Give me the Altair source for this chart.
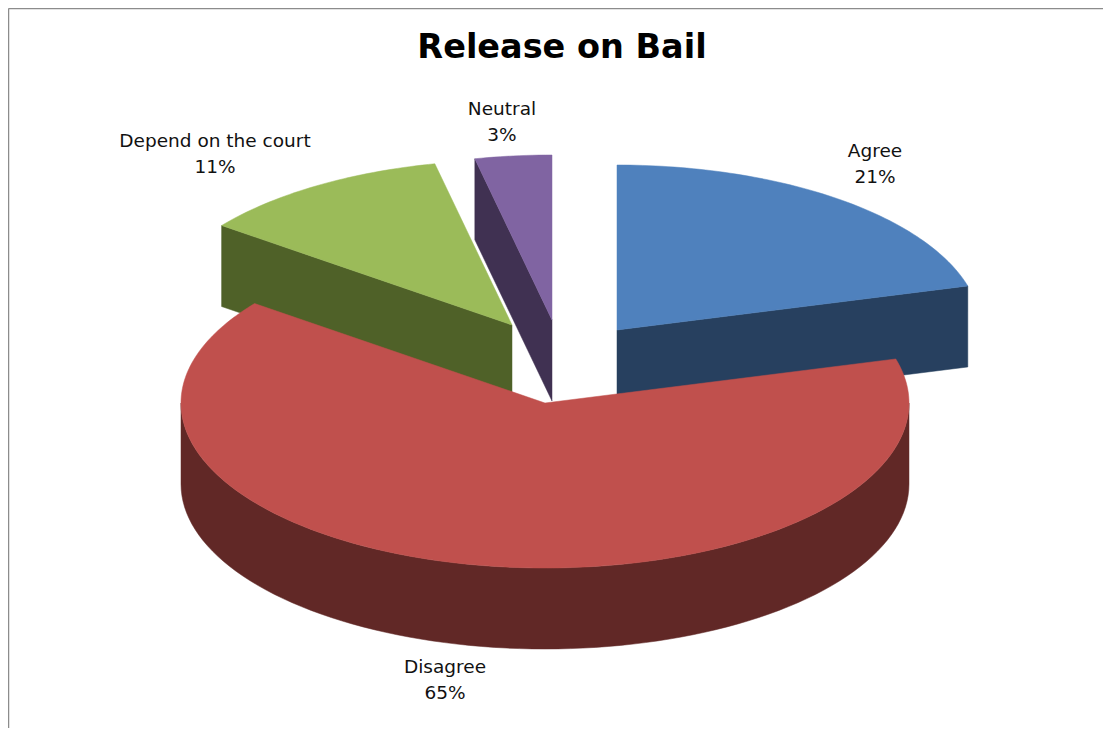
import math
import altair as alt
import pandas as pd

# Values
categories = ["Agree", "Disagree", "Depend on the court", "Neutral"]
shares = [20.7, 64.6, 11.3, 3.4]
title_text = "Release on Bail"

# Styles and layout (pixels relative to the plot area)
top_colors = ["#4F81BD", "#C0504D", "#9BBB59", "#8064A2"]
wall_colors = ["#27405F", "#612826", "#4F6128", "#403152"]
W, H = 1095, 720
RX, RY, DEPTH = 364, 165, 81
apex_x = [609, 537, 504, 544]
apex_y = [322, 395, 317, 312]
label_x = [867, 437, 207, 494]
label_y = [143, 659, 133, 101]
LINE_GAP = 26
FONT = "DejaVu Sans"


def rim(cx, cy, deg, dy=0):
    a = math.radians(deg)
    return cx + RX * math.sin(a), cy - RY * math.cos(a) + dy


x_scale = alt.Scale(domain=[0, W], range=[0, W])
y_scale = alt.Scale(domain=[0, H], range=[0, H])
x_enc = alt.X("x:Q", scale=x_scale, axis=None)
y_enc = alt.Y("y:Q", scale=y_scale, axis=None)


def polygon(points, color):
    df = pd.DataFrame(points, columns=["x", "y"])
    df["i"] = range(len(df))
    return alt.Chart(df).mark_line(
        fill=color, stroke=color, strokeWidth=0.5, interpolate="linear-closed"
    ).encode(x=x_enc, y=y_enc, order="i:Q")


spans = []
start = 0.0
for s in shares:
    spans.append((start, start + s * 3.6))
    start += s * 3.6


def top_face(i):
    a, b = spans[i]
    n = max(int(b - a), 2)
    pts = [(apex_x[i], apex_y[i])]
    pts += [rim(apex_x[i], apex_y[i], a + (b - a) * k / n) for k in range(n + 1)]
    return polygon(pts, top_colors[i])


def cut_wall(i, deg):
    cx, cy = apex_x[i], apex_y[i]
    rx, ry = rim(cx, cy, deg)
    pts = [(cx, cy), (rx, ry), (rx, ry + DEPTH), (cx, cy + DEPTH)]
    return polygon(pts, wall_colors[i])


def rim_wall(i):
    cx, cy = apex_x[i], apex_y[i]
    degs = list(range(90, 271, 2))
    pts = [rim(cx, cy, d) for d in degs] + [rim(cx, cy, d, DEPTH) for d in reversed(degs)]
    return polygon(pts, wall_colors[i])


layers = [
    cut_wall(0, spans[0][1]), top_face(0),
    cut_wall(3, spans[3][0]), top_face(3),
    cut_wall(2, spans[2][0]), top_face(2),
    rim_wall(1), top_face(1),
]

# Frame lines on the top and left of the chart
frame = pd.DataFrame({"x": [0.5], "x2": [W], "y": [0.5], "y2": [H]})
layers.append(
    alt.Chart(frame).mark_rule(color="#8C8C8C", strokeWidth=1.5).encode(
        x=alt.X("x:Q", scale=x_scale, axis=None), x2="x2:Q", y=alt.Y("y:Q", scale=y_scale, axis=None)
    )
)
layers.append(
    alt.Chart(frame).mark_rule(color="#8C8C8C", strokeWidth=1.5).encode(
        x=alt.X("x:Q", scale=x_scale, axis=None), y=alt.Y("y:Q", scale=y_scale, axis=None), y2="y2:Q"
    )
)

rows = []
for c, s, lx, ly in zip(categories, shares, label_x, label_y):
    rows.append({"x": lx, "y": ly, "t": c})
    rows.append({"x": lx, "y": ly + LINE_GAP, "t": f"{round(s)}%"})
layers.append(
    alt.Chart(pd.DataFrame(rows)).mark_text(
        font=FONT, fontSize=18.5, color="#111111", align="center", baseline="middle"
    ).encode(x=x_enc, y=y_enc, text="t:N")
)
layers.append(
    alt.Chart(pd.DataFrame({"x": [554], "y": [40], "t": [title_text]})).mark_text(
        font=FONT, fontSize=33.5, fontWeight="bold", color="#000000", align="center", baseline="middle"
    ).encode(x=x_enc, y=y_enc, text="t:N")
)

chart = alt.layer(*layers).properties(
    width=W, height=H, padding=0, autosize=alt.AutoSizeParams(type="none"),
    background="#FFFFFF"
).configure_view(stroke=None)

chart.save("out.html", embed_options={"renderer": "svg", "actions": False})
